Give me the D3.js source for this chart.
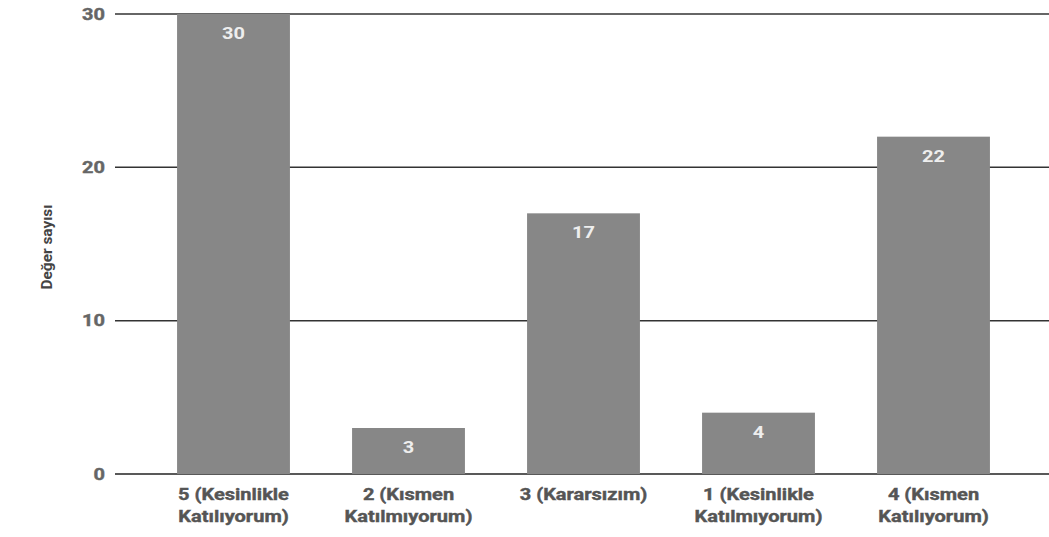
<!DOCTYPE html>
<html><head><meta charset="utf-8">
<script src="https://cdn.jsdelivr.net/npm/d3@7"></script>
<style>body{margin:0;background:#fff;font-family:Roboto,Arial,sans-serif}</style>
</head><body><svg id="c" width="1049" height="537"></svg>
<script>
const categories = [["5 (Kesinlikle","Katılıyorum)"],["2 (Kısmen","Katılmıyorum)"],["3 (Kararsızım)"],["1 (Kesinlikle","Katılmıyorum)"],["4 (Kısmen","Katılıyorum)"]];
const values = [30,3,17,4,22];
const yTicks = [0,10,20,30];
const yTitle = "Değer sayısı";

const svg = d3.select("#c");
const ids = categories.map((c,i)=>i);
const x = d3.scaleBand().domain(ids).range([146,1021]).paddingInner(0.355).paddingOuter(0.1775);
const y = d3.scaleLinear().domain([0,30]).range([474,14]);
const SX = 1.25;

// gridlines
svg.append("g").selectAll("line").data(yTicks).join("line")
  .attr("x1",115).attr("x2",1049).attr("y1",d=>y(d)).attr("y2",d=>y(d))
  .attr("stroke",d=>d===0?"#222":"#333").attr("stroke-width",1.5);

// y tick labels
svg.append("g").selectAll("text").data(yTicks).join("text")
  .attr("transform",d=>`translate(105,${y(d)}) scale(${SX},1)`)
  .attr("dy","0.36em").attr("text-anchor","end")
  .attr("font-size",16).attr("font-weight","bold").attr("fill","#666")
  .attr("stroke","#666").attr("stroke-width",0.4).text(d=>d);

// bars
svg.append("g").selectAll("rect").data(values).join("rect")
  .attr("x",(d,i)=>x(i)).attr("width",x.bandwidth())
  .attr("y",d=>y(d)).attr("height",d=>y(0)-y(d)).attr("fill","#878787");

// value labels
svg.append("g").selectAll("text").data(values).join("text")
  .attr("transform",(d,i)=>`translate(${x(i)+x.bandwidth()/2},${y(d)+25}) scale(${SX},1)`)
  .attr("text-anchor","middle").attr("font-size",16).attr("font-weight","bold")
  .attr("fill","#eeeeee").text(d=>d);

// x labels
const xl = svg.append("g").selectAll("text").data(categories).join("text")
  .attr("transform",(d,i)=>`translate(${x(i)+x.bandwidth()/2},500) scale(${SX},1)`)
  .attr("text-anchor","middle").attr("font-size",16).attr("font-weight","bold")
  .attr("fill","#555").attr("stroke","#555").attr("stroke-width",0.4);
xl.each(function(d){
  const t=d3.select(this);
  d.forEach((s,j)=>t.append("tspan").attr("x",0).attr("dy",j?"1.4em":0).text(s));
});

// y title
svg.append("text").attr("transform","translate(52,247) rotate(-90) scale(1.1,1)")
  .attr("text-anchor","middle").attr("font-size",14).attr("font-weight","bold").attr("fill","#444").text(yTitle);
</script></body></html>
